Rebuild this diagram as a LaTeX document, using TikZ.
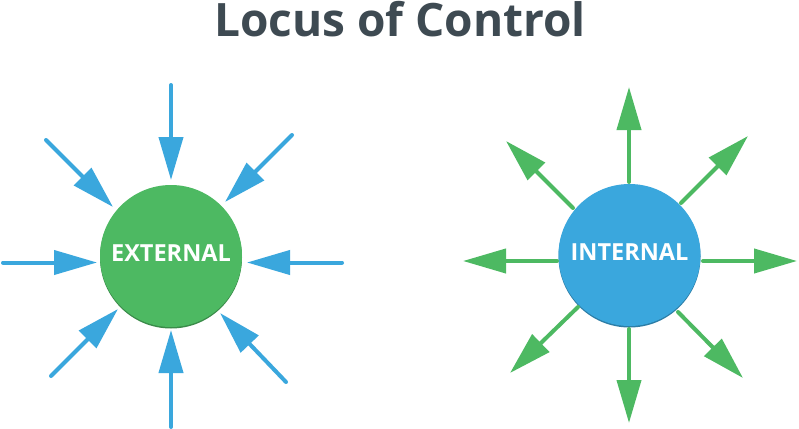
\documentclass[tikz,border=0pt]{standalone}
\usepackage{fontspec}
\setmainfont{Open Sans}
\usetikzlibrary{positioning,arrows.meta,calc}
\definecolor{locgreen}{HTML}{4DB962}
\definecolor{locblue}{HTML}{3AA7DD}
\definecolor{loctitle}{HTML}{3E4A52}

\begin{document}
\begin{tikzpicture}[x=1pt,y=-1pt]
\tikzset{ball/.style={circle,minimum size=142pt,inner sep=0pt,text depth=5pt,text=white,font=\fontsize{23.5}{25}\selectfont\bfseries},
  arr/.style={line width=4pt,line cap=round,-{Triangle[length=43pt,width=24pt]}}}
\useasboundingbox[fill=white] (0,0) rectangle (799,428);

\node[anchor=base,text=loctitle,font=\fontsize{46}{50}\selectfont\bfseries] (title) at (400,37) {Locus of Control};

% circles with darker rim below
\fill[locgreen!75!black] (171,257.5) circle (71pt);
\node[ball,fill=locgreen] (ext) at (171,256) {EXTERNAL};
\fill[locblue!75!black] (629.5,256.5) circle (71pt);
\node[ball,fill=locblue] (int) at (629.5,255) {INTERNAL};

% arrows pointing in
\foreach \n/\fx/\fy/\tx/\ty in {n/171/85/171/180, s/171/427/171/330, w/3/262.5/97/262.5, e/342/262.5/247/262.5,
    nw/46/140/113/207, ne/292/135/225/202, sw/51/376/118/309, se/286/382/220/313} {
  \coordinate (ext-far-\n) at (\fx,\fy);
  \coordinate (ext-near-\n) at (\tx,\ty);
  \draw[arr,locblue] (ext-far-\n) -- (ext-near-\n);
}
% arrows pointing out
\foreach \n/\fx/\fy/\tx/\ty in {n/629/182/629/87, s/629/329/629/423, w/557/261/463/261, e/703/261/797/261,
    nw/573/208/506/141, ne/681/203/748/136, sw/578/307/510/373, se/678/312/743/378} {
  \coordinate (int-near-\n) at (\fx,\fy);
  \coordinate (int-far-\n) at (\tx,\ty);
  \draw[arr,locgreen] (int-near-\n) -- (int-far-\n);
}
\end{tikzpicture}
\end{document}
